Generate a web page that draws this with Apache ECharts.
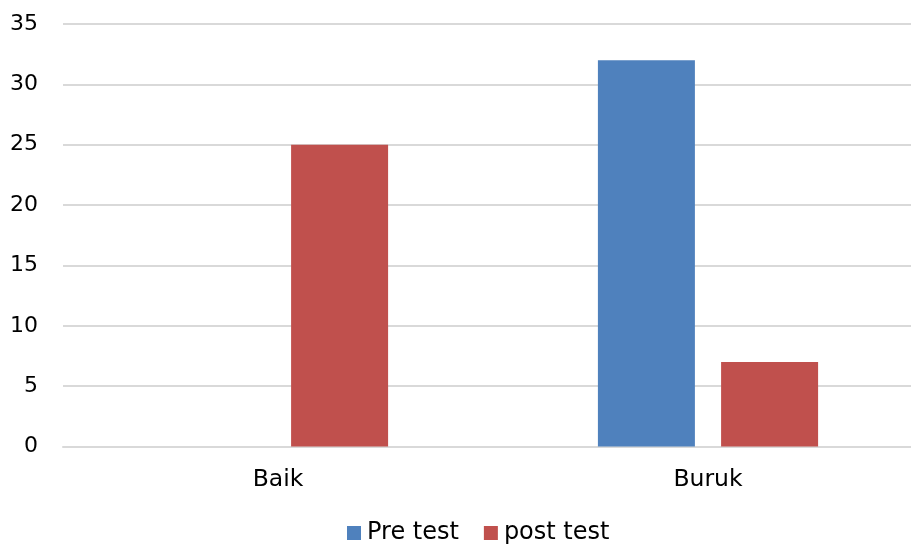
<!DOCTYPE html>
<html><head><meta charset="utf-8">
<script src="https://cdn.jsdelivr.net/npm/echarts@6/dist/echarts.min.js"></script>
<style>html,body{margin:0;padding:0;background:#fff}#c{width:911px;height:544px}</style>
</head><body><div id="c"></div>
<script>
const categories = ['Baik', 'Buruk'];
const preTest = [0, 32];
const postTest = [25, 7];
const seriesNames = ['Pre test', 'post test'];

const chart = echarts.init(document.getElementById('c'));
const font = 'DejaVu Sans, Verdana, sans-serif';
chart.setOption({
  animation: false,
  textStyle: { fontFamily: font },
  grid: { left: 63, top: 24, width: 860, height: 422.5, containLabel: false, outerBoundsMode: 'none' },
  legend: {
    top: 516, left: 342, itemWidth: 14, itemHeight: 14, itemGap: 25,
    icon: 'rect',
    textStyle: { fontFamily: font, fontSize: 24, color: '#000', padding: [0, 0, 0, 1] },
    data: seriesNames
  },
  xAxis: {
    type: 'category', data: categories,
    axisLine: { lineStyle: { color: '#d9d9d9', width: 2 } },
    axisTick: { show: false },
    axisLabel: { fontFamily: font, fontSize: 23.5, color: '#000', margin: 21 }
  },
  yAxis: {
    type: 'value', min: 0, max: 35, interval: 5,
    axisLine: { show: false }, axisTick: { show: false },
    splitLine: { lineStyle: { color: '#d9d9d9', width: 2 } },
    axisLabel: { fontFamily: font, fontSize: 22, color: '#000', margin: 25 }
  },
  series: [
    { name: seriesNames[0], type: 'bar', data: preTest, barWidth: 97, barGap: '27%',
      itemStyle: { color: '#4F81BD' } },
    { name: seriesNames[1], type: 'bar', data: postTest, barWidth: 97, barGap: '27%',
      itemStyle: { color: '#C0504D' } }
  ]
});
</script></body></html>
